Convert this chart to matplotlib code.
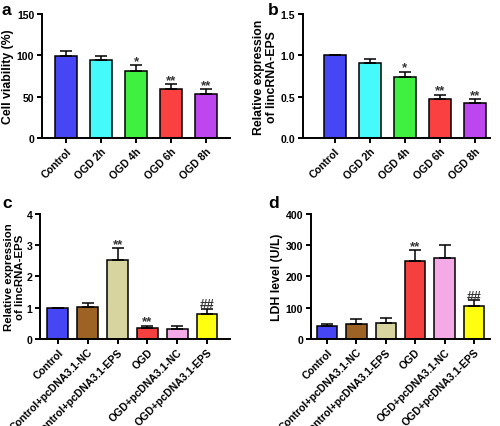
import matplotlib
matplotlib.use("Agg")
import matplotlib.pyplot as plt
import numpy as np

plt.rcParams['font.family'] = ['Liberation Sans', 'DejaVu Sans']
plt.rcParams['font.weight'] = 'bold'

# panel a / b
time_groups = ["Control", "OGD 2h", "OGD 4h", "OGD 6h", "OGD 8h"]
viability = [99, 95, 81, 59, 53]
viability_err = [6, 4, 7, 6, 6]
viability_sig = ["", "", "*", "**", "**"]
expr_time = [1.0, 0.91, 0.74, 0.47, 0.42]
expr_time_err = [0.0, 0.05, 0.06, 0.05, 0.05]
expr_time_sig = ["", "", "*", "**", "**"]
time_colors = ["#4646F5", "#44FAFA", "#40F040", "#FA4040", "#BE46EE"]

# panel c / d
tx_groups = ["Control", "Control+pcDNA3.1-NC", "Control+pcDNA3.1-EPS",
             "OGD", "OGD+pcDNA3.1-NC", "OGD+pcDNA3.1-EPS"]
expr_tx = [1.0, 1.02, 2.53, 0.35, 0.33, 0.79]
expr_tx_err = [0.0, 0.14, 0.37, 0.07, 0.09, 0.18]
expr_tx_sig = ["", "", "**", "**", "", "##"]
ldh = [42, 48, 52, 250, 260, 105]
ldh_err = [7, 17, 14, 33, 40, 19]
ldh_sig = ["", "", "", "**", "", "##"]
tx_colors = ["#4646F5", "#9C6324", "#D8D4A0", "#F54040", "#F4AAE6", "#FFFF10"]


def bar_panel(ax, labels, vals, errs, sig, colors, ylim, yticks, ylabel,
              xlim, width, yfmt, label_size=8.8, label_pad=2):
    x = np.arange(len(vals))
    ax.bar(x, vals, width=width, color=colors, edgecolor="black", linewidth=1.1, zorder=2)
    ax.errorbar(x, vals, yerr=[np.zeros(len(errs)), errs], fmt="none",
                ecolor="black", elinewidth=1.1, capsize=4.5, capthick=1.1, zorder=3)
    for xi, v, e, s in zip(x, vals, errs, sig):
        if s:
            ax.text(xi, v + e - ylim[1] * 0.012, s, ha="center", va="bottom",
                    fontsize=9.5, fontweight="bold", color="#333333")
    ax.set_xlim(*xlim)
    ax.set_ylim(*ylim)
    ax.set_yticks(yticks)
    ax.set_yticklabels([yfmt.format(t) for t in yticks], fontsize=7.6, fontweight="bold")
    ax.set_xticks(x)
    ax.set_xticklabels(labels, rotation=45, ha="right", rotation_mode="anchor",
                       fontsize=7.6, fontweight="bold")
    ax.set_ylabel(ylabel, fontsize=label_size, fontweight="bold", linespacing=1.1,
                  labelpad=label_pad)
    for sp in ["top", "right"]:
        ax.spines[sp].set_visible(False)
    for sp in ["left", "bottom"]:
        ax.spines[sp].set_linewidth(1.4)
    ax.tick_params(width=1.4, length=3.5, pad=2)


fig = plt.figure(figsize=(5, 4.27), dpi=100)

ax_a = fig.add_axes([0.084, 0.674, 0.376, 0.291])
bar_panel(ax_a, time_groups, viability, viability_err, viability_sig, time_colors,
          (0, 150), [0, 50, 100, 150], "Cell viability (%)", (-0.7, 4.7), 0.63, "{:.0f}")

ax_b = fig.add_axes([0.606, 0.674, 0.374, 0.291])
bar_panel(ax_b, time_groups, expr_time, expr_time_err, expr_time_sig, time_colors,
          (0, 1.5), [0, 0.5, 1.0, 1.5], "Relative expression\nof lincRNA-EPS",
          (-0.9, 4.43), 0.63, "{:.1f}")

ax_c = fig.add_axes([0.08, 0.204, 0.38, 0.293])
bar_panel(ax_c, tx_groups, expr_tx, expr_tx_err, expr_tx_sig, tx_colors,
          (0, 4), [0, 1, 2, 3, 4], "Relative expression\nof lincRNA-EPS",
          (-0.6, 5.77), 0.7, "{:.0f}", label_size=8.2, label_pad=1)

ax_d = fig.add_axes([0.622, 0.204, 0.358, 0.293])
bar_panel(ax_d, tx_groups, ldh, ldh_err, ldh_sig, tx_colors,
          (0, 400), [0, 100, 200, 300, 400], "LDH level (U/L)",
          (-0.55, 5.55), 0.7, "{:.0f}")

for lab, (px, py) in zip("abcd", [(0.004, 0.992), (0.536, 0.992), (0.004, 0.54), (0.536, 0.54)]):
    fig.text(px, py, lab, fontsize=12.5, fontweight="bold", va="top", ha="left")

fig.savefig("out.png", dpi=100)
